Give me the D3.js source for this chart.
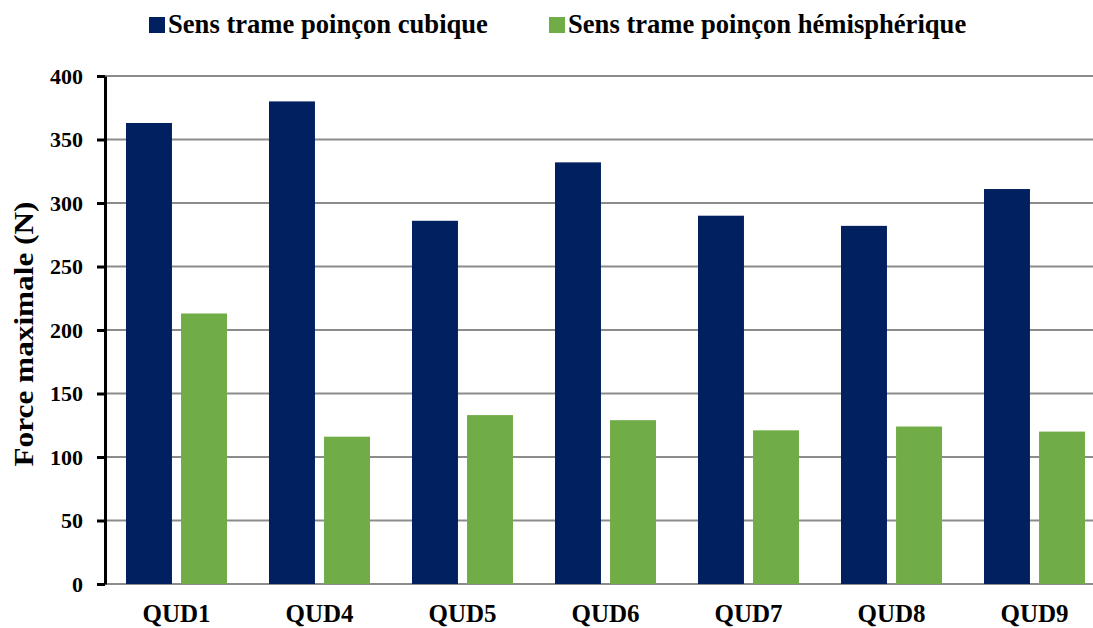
<!DOCTYPE html>
<html>
<head>
<meta charset="utf-8">
<script src="https://cdn.jsdelivr.net/npm/d3@7"></script>
<style>
  html, body { margin: 0; padding: 0; background: #fff; }
  svg { display: block; }
  svg text { font-family: "Liberation Serif", "Times New Roman", serif; font-weight: bold; fill: #000; }
</style>
</head>
<body>
<svg id="chart" width="1093" height="628"></svg>
<script>
// Échantillons et forces maximales mesurées (N)
const categories = ["QUD1", "QUD4", "QUD5", "QUD6", "QUD7", "QUD8", "QUD9"];
const seriesNames = ["Sens trame poinçon cubique", "Sens trame poinçon hémisphérique"];
const cubique = [363, 380, 286, 332, 290, 282, 311];
const hemispherique = [213, 116, 133, 129, 121, 124, 120];
const yTicks = [0, 50, 100, 150, 200, 250, 300, 350, 400];
const colors = ["#002060", "#70AD47"];

const svg = d3.select("#chart");

const x0 = d3.scaleBand().domain(categories).range([105, 1106]).paddingInner(0).paddingOuter(0);
const x1 = d3.scaleBand().domain(seriesNames).range([21, x0.bandwidth() - 21]).paddingInner(0.165);
const y = d3.scaleLinear().domain([0, 400]).range([584, 76]);

// Quadrillage horizontal
svg.append("g")
  .selectAll("line")
  .data(yTicks)
  .join("line")
  .attr("x1", 105).attr("x2", 1093)
  .attr("y1", d => y(d)).attr("y2", d => y(d))
  .attr("stroke", "#8c8c8c").attr("stroke-width", 2);

// Barres
const rows = categories.map((c, i) => ({ cat: c, values: [cubique[i], hemispherique[i]] }));
svg.append("g")
  .selectAll("g")
  .data(rows)
  .join("g")
  .attr("transform", d => `translate(${x0(d.cat)},0)`)
  .selectAll("rect")
  .data(d => d.values.map((v, j) => ({ name: seriesNames[j], v, j })))
  .join("rect")
  .attr("x", d => x1(d.name))
  .attr("width", x1.bandwidth())
  .attr("y", d => y(d.v))
  .attr("height", d => y(0) - y(d.v))
  .attr("fill", d => colors[d.j]);

// Axe vertical
const yAxis = d3.axisLeft(y).tickValues(yTicks).tickSize(8).tickPadding(14).tickSizeOuter(0);
const gy = svg.append("g").attr("transform", "translate(105,0)").call(yAxis);
gy.attr("font-family", null).attr("font-size", null);
gy.select(".domain").attr("stroke", "#000").attr("stroke-width", 3);
gy.selectAll(".tick line").attr("stroke", "#000").attr("stroke-width", 3);
gy.selectAll(".tick text").style("font-size", "22px").attr("dy", "0.34em");

// Axe horizontal (libellés uniquement)
const xAxis = d3.axisBottom(x0).tickSize(0).tickPadding(20);
const gx = svg.append("g").attr("transform", "translate(0,584)").call(xAxis);
gx.attr("font-family", null).attr("font-size", null);
gx.select(".domain").remove();
gx.selectAll(".tick text").style("font-size", "25px");

// Titre de l'axe Y
svg.append("text")
  .attr("transform", "translate(33,334) rotate(-90)")
  .attr("text-anchor", "middle")
  .attr("textLength", 265)
  .attr("lengthAdjust", "spacingAndGlyphs")
  .style("font-size", "28px")
  .text("Force maximale (N)");

// Légende
const legendX = [149, 549];
const legend = svg.append("g")
  .selectAll("g")
  .data(seriesNames)
  .join("g")
  .attr("transform", (d, i) => `translate(${legendX[i]},17)`);
legend.append("rect").attr("width", 16).attr("height", 16).attr("fill", (d, i) => colors[i]);
legend.append("text")
  .attr("x", 19).attr("y", 16)
  .style("font-size", "26.6px")
  .text(d => d);
</script>
</body>
</html>
